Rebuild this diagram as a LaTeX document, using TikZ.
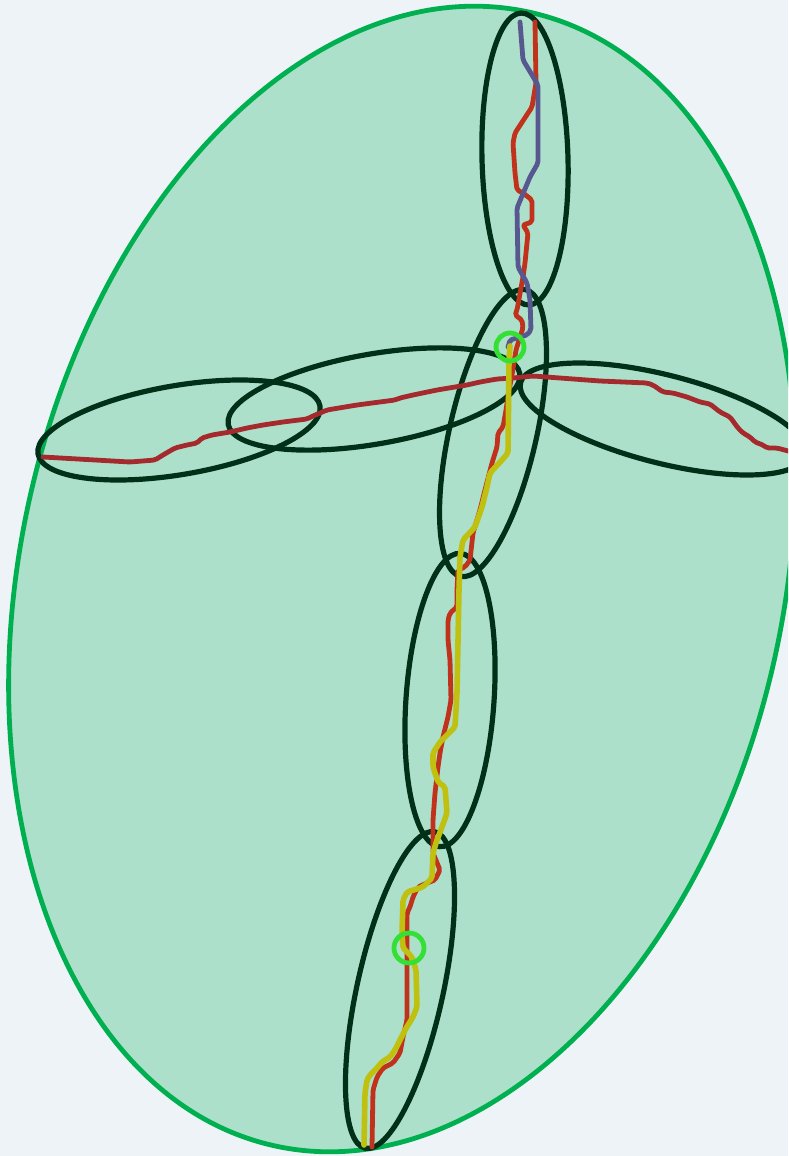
\documentclass[tikz,border=0pt]{standalone}
\usepackage{tikz}

\definecolor{paper}{RGB}{237,243,247}
\definecolor{cellfill}{RGB}{173,224,202}
\definecolor{rimgreen}{RGB}{0,176,80}
\definecolor{celldark}{RGB}{0,48,24}
\definecolor{walkred}{RGB}{192,50,28}
\definecolor{walkbrown}{RGB}{165,42,46}
\definecolor{walkblue}{RGB}{88,88,144}
\definecolor{walkyellow}{RGB}{192,192,16}
\definecolor{markgreen}{RGB}{51,224,51}

\begin{document}
\begin{tikzpicture}[x = 1pt, y = 1pt, yscale = -1,
		cell/.style = {draw = celldark, line width = 5.2pt},
		walk/.style = {line width = 4.8pt, line join = round, line cap = round, rounded corners = 2pt},
		hit/.style = {draw = markgreen, line width = 4.8pt}]
		\fill[paper] (0,0) rectangle (788,1156);
		\clip (0,0) rectangle (788,1156);
		% outer region
		\filldraw[fill = cellfill, draw = rimgreen, line width = 4.8pt, rotate around = {12.85:(402,579)}] (402,579) ellipse [x radius = 381, y radius = 581];
		% vertical chain
		\draw[cell, rotate around = {-1.5:(525,159)}] (525,159) ellipse [x radius = 43, y radius = 146];
		\draw[cell, rotate around = {12.8:(493,433)}] (493,433) ellipse [x radius = 43.5, y radius = 147];
		\draw[cell, rotate around = {4:(450,700)}] (450,700) ellipse [x radius = 44, y radius = 147];
		\draw[cell, rotate around = {12.4:(400,990)}] (400,990) ellipse [x radius = 43, y radius = 162];
		% horizontal chain
		\draw[cell, rotate around = {-9.65:(179,430)}] (179,430) ellipse [x radius = 143, y radius = 44.5];
		\draw[cell, rotate around = {-9.9:(374,399)}] (374,399) ellipse [x radius = 148, y radius = 45];
		\draw[cell, rotate around = {14.3:(663,419)}] (663,419) ellipse [x radius = 147, y radius = 44];
		% walks
		\draw[walk, walkbrown] (43,457) -- (130,462) -- (155,460) -- (163,455) -- (175,448) -- (187,445) -- (197,443) -- (202,438) -- (212,435) -- (230,432) -- (247,428) -- (263,425) -- (283,422) -- (307,419) -- (313,416) -- (327,410) -- (357,405) -- (395,400) -- (400,398) -- (413,395) -- (437,390) -- (467,385) -- (480,382) -- (497,379) -- (513,378) -- (533,376) -- (600,381) -- (647,383) -- (653,385) -- (663,392) -- (673,393) -- (687,397) -- (700,402) -- (710,404) -- (720,412) -- (730,417) -- (738,428) -- (743,433) -- (750,437) -- (755,442) -- (763,445) -- (767,448) -- (777,448) -- (792,452);
		\draw[walk, walkred] (535,22) -- (536,83) -- (532,107) -- (515,133) -- (513,143) -- (515,173) -- (517,190) -- (523,193) -- (532,200) -- (532,222) -- (523,225) -- (528,233) -- (525,263) -- (523,277) -- (517,310) -- (515,315) -- (522,320) -- (523,328) -- (520,337) -- (516,350) -- (512,375) -- (509,390) -- (506,410) -- (503,427) -- (498,433) -- (497,447) -- (492,463) -- (485,490) -- (480,510) -- (473,533) -- (470,560) -- (465,567) -- (458,570) -- (457,590) -- (457,607) -- (450,613) -- (448,620) -- (448,640) -- (450,660) -- (451,700) -- (448,717) -- (443,737) -- (440,753) -- (438,767) -- (435,793) -- (433,820) -- (433,853) -- (440,870) -- (435,880) -- (427,883) -- (418,887) -- (413,897) -- (410,907) -- (407,913) -- (407,1020) -- (403,1037) -- (400,1053) -- (393,1063) -- (383,1068) -- (377,1077) -- (373,1090) -- (372,1147);
		\draw[walk, walkblue] (520,22) -- (523,60) -- (538,85) -- (538,163) -- (530,177) -- (517,208) -- (518,267) -- (527,283) -- (530,300) -- (531,330) -- (527,335) -- (510,340) -- (508,347);
		\draw[walk, walkyellow, line width = 5.6pt] (510,346) -- (509,360) -- (508,453) -- (502,460) -- (490,473) -- (487,487) -- (482,507) -- (475,527) -- (463,540) -- (460,557) -- (459,590) -- (457,693) -- (455,727) -- (440,742) -- (433,753) -- (433,767) -- (438,782) -- (445,787) -- (447,813) -- (442,827) -- (437,840) -- (433,853) -- (432,878) -- (423,887) -- (407,892) -- (403,900) -- (402,933) -- (403,948) -- (412,957) -- (416,970) -- (417,1007) -- (413,1017) -- (405,1030) -- (400,1040) -- (395,1050) -- (390,1057) -- (382,1062) -- (378,1067) -- (370,1075) -- (367,1080) -- (365,1093) -- (364,1145);
		% meeting points
		\coordinate (topmeet) at (510,347);
		\coordinate (lowmeet) at (409,948);
		\draw[hit] (topmeet) circle [radius = 14];
		\draw[hit] (lowmeet) circle [radius = 15];
	\end{tikzpicture}
\end{document}
